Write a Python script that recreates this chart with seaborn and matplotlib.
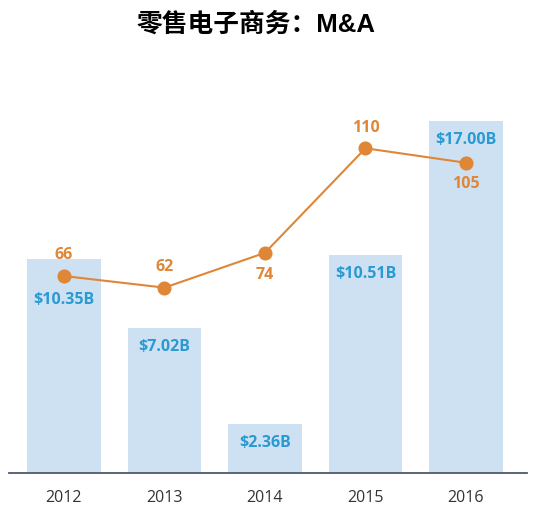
import matplotlib
matplotlib.use("Agg")
import matplotlib.pyplot as plt
import seaborn as sns
import pandas as pd

years = ["2012", "2013", "2014", "2015", "2016"]
funding = [10.35, 7.02, 2.36, 10.51, 17.00]          # $B
funding_labels = ["$10.35B", "$7.02B", "$2.36B", "$10.51B", "$17.00B"]
deals = [66, 62, 74, 110, 105]

BAR = "#cde1f3"
BLUE = "#2a9ad3"
ORANGE = "#df8637"

sns.set_theme(style="white")
plt.rcParams["font.family"] = ["Open Sans", "DejaVu Sans"]

fig = plt.figure(figsize=(5.34, 5.07), dpi=100)
ax = fig.add_axes([9 / 534, 34 / 507, 518 / 534, 400 / 507])

df = pd.DataFrame({"year": years, "funding": funding, "deals": deals})
sns.barplot(data=df, x="year", y="funding", ax=ax, color=BAR, saturation=1,
            width=0.735, edgecolor="none")

ax2 = ax.twinx()
sns.pointplot(data=df, x="year", y="deals", ax=ax2, color=ORANGE,
              markers="o", markersize=9, linewidth=1.5)

ax.set_xlim(-0.547, 4.607)
ax.set_ylim(0, 400 / 20.7)
lo = -5.3 / 2.904
ax2.set_ylim(lo, lo + 400 / 2.904)

# bar labels
bar_offsets = [-41, -19, -19, -19, -19]
for i, (v, lab) in enumerate(zip(funding, funding_labels)):
    ax.annotate(lab, (i, v), xytext=(0, bar_offsets[i]), textcoords="offset pixels",
                ha="center", va="center", color=BLUE, fontsize=11.5, fontweight="bold")

# deal labels
deal_offsets = [21, 21, -22, 20, -21]
for i, d in enumerate(deals):
    ax2.annotate(str(d), (i, d), xytext=(0, deal_offsets[i]), textcoords="offset pixels",
                 ha="center", va="center", color=ORANGE, fontsize=11.5, fontweight="bold")

for a in (ax, ax2):
    for s in ["top", "left", "right"]:
        a.spines[s].set_visible(False)
    a.set_yticks([])
    a.set_ylabel("")
    a.set_xlabel("")
ax2.spines["bottom"].set_visible(False)
ax.spines["bottom"].set_color("#50586a")
ax.spines["bottom"].set_linewidth(1.3)
ax.tick_params(axis="x", length=0, pad=12, labelsize=11.5, labelcolor="#333333")
ax2.tick_params(axis="x", length=0, labelbottom=False)
ax.patch.set_alpha(0)
ax2.patch.set_alpha(0)

fig.text(256.5 / 534, 1 - 24 / 507, "零售电子商务：M&A", ha="center", va="center",
         fontsize=18.5, fontweight="bold",
         family=["Liberation Sans", "Noto Sans CJK SC"], color="black")

fig.savefig("out.png", dpi=100, facecolor="white")
